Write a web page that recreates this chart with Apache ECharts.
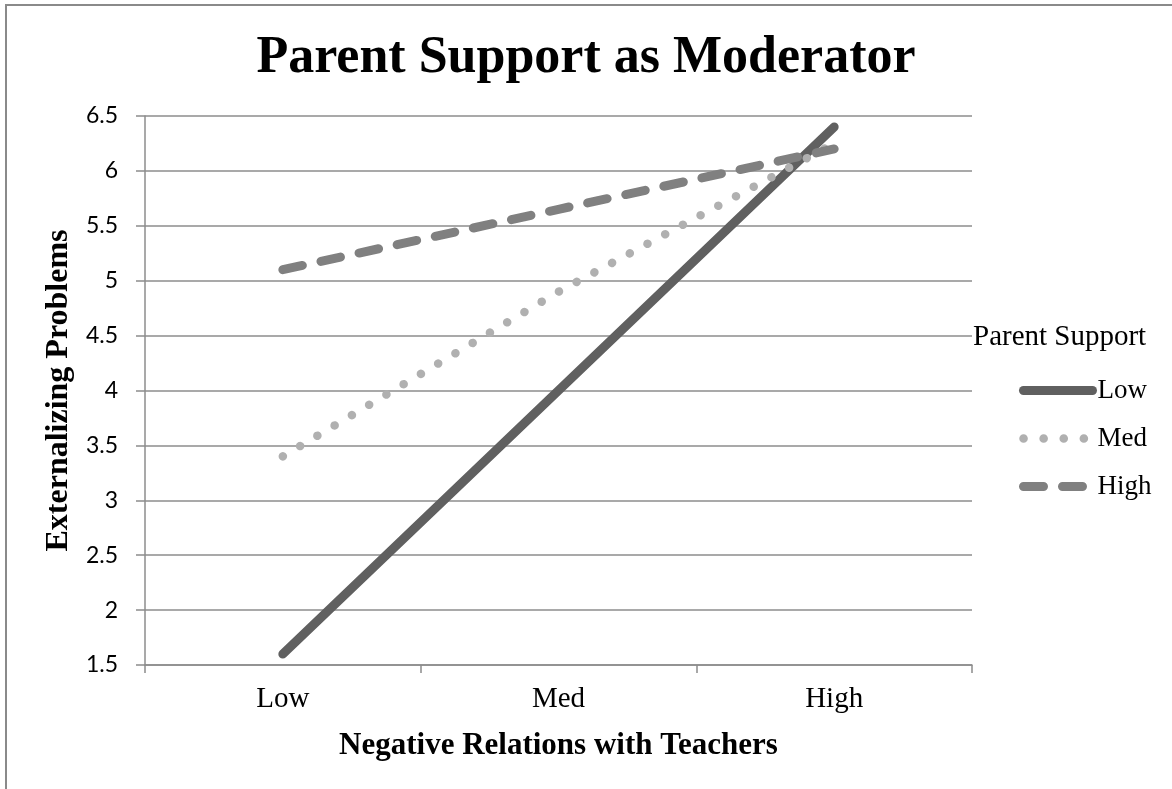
<!DOCTYPE html>
<html>
<head>
<meta charset="utf-8">
<script src="https://cdn.jsdelivr.net/npm/echarts@6/dist/echarts.min.js"></script>
<style>
  html, body { margin: 0; padding: 0; background: #fff; }
  #chart { width: 1172px; height: 789px; }
</style>
</head>
<body>
<div id="chart"></div>
<script>
// data
const categories = ['Low', 'Med', 'High'];
const lowSupport = [1.6, 4.0, 6.4];
const medSupport = [3.4, 4.9, 6.25];
const highSupport = [5.1, 5.65, 6.2];

const serif = '"Liberation Serif", "Times New Roman", serif';
const gridColor = '#8c8c8c';

const chart = echarts.init(document.getElementById('chart'));
chart.setOption({
  backgroundColor: '#ffffff',
  animation: false,
  title: [{
    text: 'Parent Support as Moderator',
    left: 'center',
    top: 28,
    textStyle: { fontFamily: serif, fontSize: 52, fontWeight: 'bold', color: '#000' }
  }, {
    text: 'Parent Support',
    left: 968,
    top: 318,
    textStyle: { fontFamily: serif, fontSize: 29, fontWeight: 'normal', color: '#000' }
  }],
  graphic: [{
    type: 'rect',
    shape: { x: 6, y: 5, width: 1300, height: 900 },
    style: { fill: 'none', stroke: '#8a8a8a', lineWidth: 2 },
    silent: true
  }],
  legend: {
    orient: 'vertical',
    left: 1014,
    top: 372,
    itemWidth: 69,
    itemHeight: 12,
    itemGap: 21,
    itemStyle: { opacity: 0 },
    lineStyle: { width: 'inherit', type: 'inherit', cap: 'inherit' },
    textStyle: { fontFamily: serif, fontSize: 27, color: '#000' },
    data: ['Low', 'Med', 'High']
  },
  grid: { left: 145, right: 200, top: 116, bottom: 124 },
  xAxis: {
    type: 'category',
    data: categories,
    boundaryGap: true,
    name: 'Negative Relations with Teachers',
    nameLocation: 'middle',
    nameGap: 65,
    nameTextStyle: { fontFamily: serif, fontSize: 31, fontWeight: 'bold', color: '#000' },
    axisLine: { lineStyle: { color: gridColor, width: 1.5 } },
    axisTick: { show: true, length: 8, lineStyle: { color: gridColor, width: 1.5 } },
    axisLabel: { fontFamily: serif, fontSize: 29, color: '#000', margin: 20 }
  },
  yAxis: {
    type: 'value',
    min: 1.5,
    max: 6.5,
    interval: 0.5,
    name: 'Externalizing Problems',
    nameLocation: 'middle',
    nameGap: 69,
    nameTextStyle: { fontFamily: serif, fontSize: 32, fontWeight: 'bold', color: '#000' },
    axisLine: { show: true, lineStyle: { color: gridColor, width: 1.5 } },
    axisTick: { show: true, length: 9, lineStyle: { color: gridColor, width: 1.5 } },
    axisLabel: { fontFamily: 'Lato, "Open Sans", sans-serif', fontSize: 23, color: '#000', margin: 27 },
    splitLine: { lineStyle: { color: gridColor, width: 1.5 } }
  },
  series: [
    {
      name: 'Low',
      type: 'line',
      data: lowSupport,
      symbol: 'none',
      itemStyle: { color: '#606060' },
      lineStyle: { color: '#606060', width: 9, cap: 'round' }
    },
    {
      name: 'Med',
      type: 'line',
      data: medSupport,
      symbol: 'none',
      itemStyle: { color: '#b0b0b0' },
      lineStyle: { color: '#b0b0b0', width: 8.5, type: [0.1, 20], cap: 'round' }
    },
    {
      name: 'High',
      type: 'line',
      data: highSupport,
      symbol: 'none',
      itemStyle: { color: '#808080' },
      lineStyle: { color: '#808080', width: 9, type: [20, 19], cap: 'round' }
    }
  ]
});
</script>
</body>
</html>
